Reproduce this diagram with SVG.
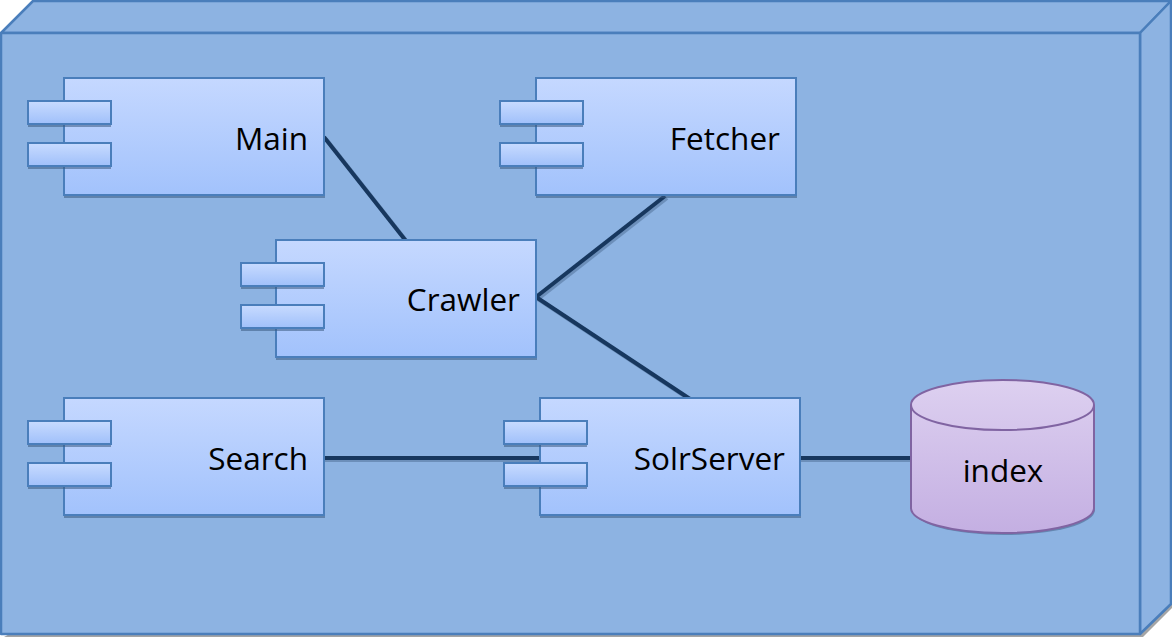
<svg xmlns="http://www.w3.org/2000/svg" width="1172" height="639" viewBox="0 0 1172 639">
<defs>
<linearGradient id="cg" x1="0" y1="0" x2="0" y2="1">
<stop offset="0" stop-color="#c5d8ff"/>
<stop offset="1" stop-color="#a2c2fc"/>
</linearGradient>
<linearGradient id="pg" x1="0" y1="0" x2="0" y2="1">
<stop offset="0" stop-color="#c8dbff"/>
<stop offset="1" stop-color="#a0c0fa"/>
</linearGradient>
<linearGradient id="dg" x1="0" y1="0" x2="0" y2="1">
<stop offset="0" stop-color="#ddd0f0"/>
<stop offset="1" stop-color="#c4afe2"/>
</linearGradient>
</defs>
<style>
.face{fill:#8db3e2;stroke:#4a7ebb;stroke-width:2.5;stroke-linejoin:round}
.body{fill:url(#cg);stroke:#4a7ebb;stroke-width:2}
.port{fill:url(#pg);stroke:#4a7ebb;stroke-width:2}
.sh{fill:#3b5a80;opacity:0.55}
.lbl{font-family:"Open Sans","Noto Sans","Liberation Sans",sans-serif;font-size:31.5px;fill:#000}
.conn{stroke:#17375e;stroke-width:4;fill:none;stroke-linecap:butt}
.connsh{stroke:#3b5a80;stroke-width:4;fill:none;opacity:0.4}
</style>
<g id="node">
<polygon points="4,637 1143,637 1173,607 1173,4" fill="#a5a5a5"/>
<polygon class="face" points="1,33 33,1 1171,1 1140,33"/>
<polygon class="face" points="1140,33 1171,1 1171,604 1140,634"/>
<rect class="face" x="1" y="33" width="1139" height="601"/>
</g>
<g id="connectors">
<line class="connsh" x1="326" y1="139" x2="408" y2="243"/>
<line class="connsh" x1="667" y1="198" x2="538" y2="299"/>
<line class="connsh" x1="538" y1="299" x2="692" y2="401"/>
<line class="connsh" x1="324" y1="460" x2="540" y2="460"/>
<line class="connsh" x1="800" y1="460" x2="911" y2="460"/>
<line class="conn" x1="324" y1="137" x2="406" y2="241"/>
<line class="conn" x1="665" y1="196" x2="536" y2="297"/>
<line class="conn" x1="536" y1="297" x2="690" y2="399"/>
<line class="conn" x1="324" y1="458" x2="540" y2="458"/>
<line class="conn" x1="800" y1="458" x2="911" y2="458"/>
</g>
<g id="main">
<rect class="sh" x="64" y="80" width="261" height="118"/>
<rect class="body" x="64" y="78" width="260" height="117"/>
<rect class="sh" x="28" y="104" width="83" height="23"/>
<rect class="port" x="28" y="101" width="83" height="23"/>
<rect class="sh" x="28" y="146" width="83" height="23"/>
<rect class="port" x="28" y="143" width="83" height="23"/>
<text class="lbl" x="308" y="150" text-anchor="end">Main</text>
</g>
<g id="fetcher">
<rect class="sh" x="536" y="80" width="261" height="118"/>
<rect class="body" x="536" y="78" width="260" height="117"/>
<rect class="sh" x="500" y="104" width="83" height="23"/>
<rect class="port" x="500" y="101" width="83" height="23"/>
<rect class="sh" x="500" y="146" width="83" height="23"/>
<rect class="port" x="500" y="143" width="83" height="23"/>
<text class="lbl" x="780" y="150" text-anchor="end">Fetcher</text>
</g>
<g id="crawler">
<rect class="sh" x="276" y="242" width="261" height="118"/>
<rect class="body" x="276" y="240" width="260" height="117"/>
<rect class="sh" x="241" y="266" width="83" height="23"/>
<rect class="port" x="241" y="263" width="83" height="23"/>
<rect class="sh" x="241" y="308" width="83" height="23"/>
<rect class="port" x="241" y="305" width="83" height="23"/>
<text class="lbl" x="520" y="311" text-anchor="end">Crawler</text>
</g>
<g id="search">
<rect class="sh" x="64" y="400" width="261" height="118"/>
<rect class="body" x="64" y="398" width="260" height="117"/>
<rect class="sh" x="28" y="424" width="83" height="23"/>
<rect class="port" x="28" y="421" width="83" height="23"/>
<rect class="sh" x="28" y="466" width="83" height="23"/>
<rect class="port" x="28" y="463" width="83" height="23"/>
<text class="lbl" x="308" y="470" text-anchor="end">Search</text>
</g>
<g id="solrserver">
<rect class="sh" x="540" y="400" width="261" height="118"/>
<rect class="body" x="540" y="398" width="260" height="117"/>
<rect class="sh" x="504" y="424" width="83" height="23"/>
<rect class="port" x="504" y="421" width="83" height="23"/>
<rect class="sh" x="504" y="466" width="83" height="23"/>
<rect class="port" x="504" y="463" width="83" height="23"/>
<text class="lbl" x="785" y="470" text-anchor="end">SolrServer</text>
</g>
<g id="index">
<path d="M913,407 L913,510 A91,25 0 0 0 1095,510 L1095,407 Z" fill="#3b5a80" opacity="0.5"/>
<path d="M911,405 L911,508 A91.5,25 0 0 0 1094,508 L1094,405 A91.5,25 0 0 0 911,405 Z" fill="url(#dg)" stroke="#8064a2" stroke-width="2"/>
<path d="M911,405 A91.5,25 0 0 0 1094,405" fill="none" stroke="#8064a2" stroke-width="2"/>
<text class="lbl" x="1003" y="482" text-anchor="middle">index</text>
</g>
</svg>
